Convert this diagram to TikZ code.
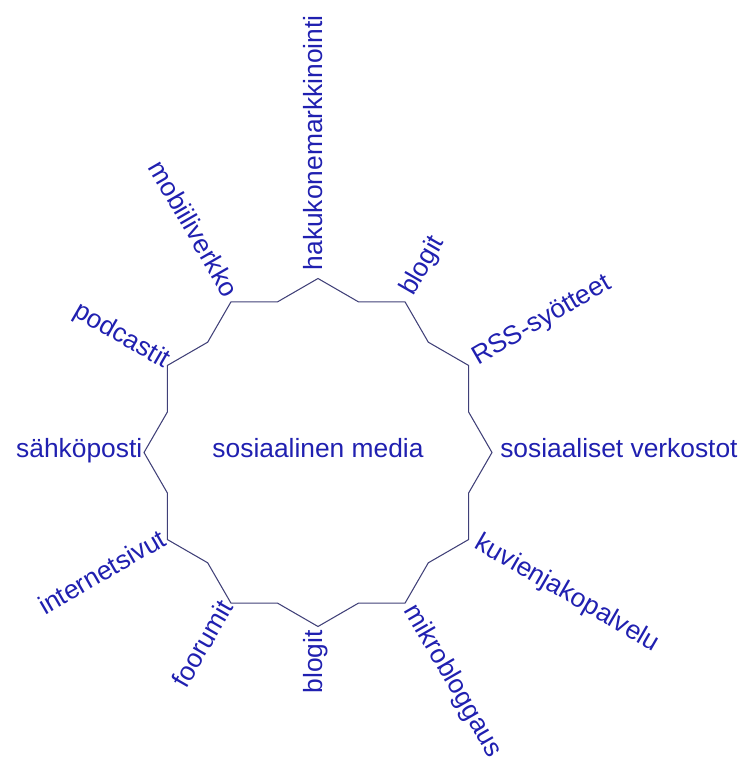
\documentclass[tikz,border=0pt]{standalone}
\usepackage{fontspec}
\setmainfont{Liberation Sans}

\definecolor{mediablue}{RGB}{32,32,176}
\definecolor{rimgray}{RGB}{64,64,120}

\begin{document}
\begin{tikzpicture}[
    hub/.style={
        font=\fontsize{15}{18}\selectfont,
        text=mediablue, inner sep=3pt
    },
    leafr/.style={hub, anchor=mid west, inner sep=4.5pt},
    leafl/.style={hub, anchor=mid east, inner sep=0.8pt},
    rim/.style={
        draw=rimgray, line width=0.6pt, line join=miter
    }
]
\useasboundingbox (-6.36,-6.11) rectangle (8.58,9.05);

% tips of the star
\coordinate (t0)   at (0:3.48);
\coordinate (t30)  at (30:3.48);
\coordinate (t60)  at (60:3.48);
\coordinate (t90)  at (90:3.48);
\coordinate (t120) at (120:3.48);
\coordinate (t150) at (150:3.48);
\coordinate (t180) at (180:3.48);
\coordinate (t210) at (210:3.48);
\coordinate (t240) at (240:3.48);
\coordinate (t270) at (270:3.48);
\coordinate (t300) at (300:3.48);
\coordinate (t330) at (330:3.48);

\draw[rim] (t0) -- (15:3.12) -- (t30) -- (45:3.12) -- (t60) -- (75:3.12)
    -- (t90) -- (105:3.12) -- (t120) -- (135:3.12) -- (t150) -- (165:3.12)
    -- (t180) -- (195:3.12) -- (t210) -- (225:3.12) -- (t240) -- (255:3.12)
    -- (t270) -- (285:3.12) -- (t300) -- (315:3.12) -- (t330) -- (345:3.12)
    -- cycle;

\node[hub, anchor=mid] (media) at (0,0) {sosiaalinen media};

\node[leafr]             (verkostot) at (t0)   {sosiaaliset verkostot};
\node[leafr, rotate=30]  (rss)       at (t30)  {RSS-syötteet};
\node[leafr, rotate=60]  (blogit1)   at (t60)  {blogit};
\node[leafr, rotate=90]  (hakukone)  at (t90)  {hakukonemarkkinointi};
\node[leafl, rotate=-60, inner sep=3pt] (mobiili) at (t120) {mobiiliverkko};
\node[leafl, rotate=-30] (podcast)   at (t150) {podcastit};
\node[leafl]             (sposti)    at (t180) {sähköposti};
\node[leafl, rotate=30]  (sivut)     at (t210) {internetsivut};
\node[leafl, rotate=60]  (foorumit)  at (t240) {foorumit};
\node[leafl, rotate=90, inner sep=2pt] (blogit2) at (t270) {blogit};
\node[leafr, rotate=-60, inner sep=3pt] (mikro) at (t300) {mikrobloggaus};
\node[leafr, rotate=-30] (kuvat)     at (t330) {kuvienjakopalvelu};

\end{tikzpicture}
\end{document}
